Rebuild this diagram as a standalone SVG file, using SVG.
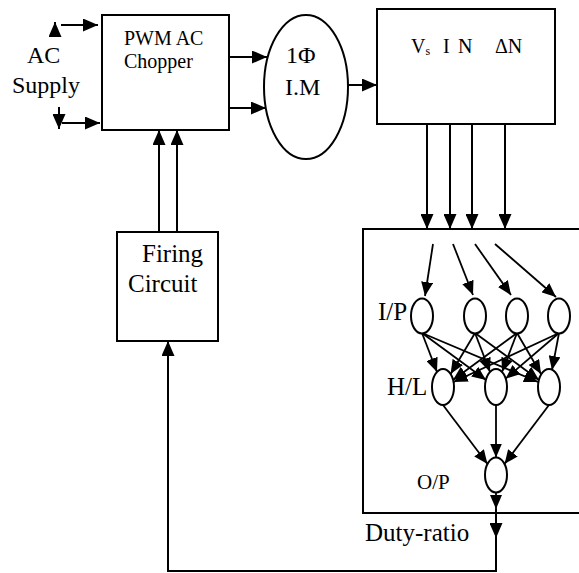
<svg xmlns="http://www.w3.org/2000/svg" width="579" height="573" viewBox="0 0 579 573">
<defs>
<marker id="ah" markerUnits="userSpaceOnUse" markerWidth="15" markerHeight="13" refX="15" refY="6.5" orient="auto"><path d="M0,0 L15,6.5 L0,13 z" fill="#000"/></marker>
<marker id="as" markerUnits="userSpaceOnUse" markerWidth="14" markerHeight="12" refX="14" refY="6" orient="auto"><path d="M0,0 L14,6 L0,12 z" fill="#000"/></marker>
<style>
.box{fill:#fff;stroke:#000;stroke-width:2}
.neu{fill:#fff;stroke:#000;stroke-width:2}
.ln{fill:none;stroke:#000;stroke-width:2}
.ar{fill:none;stroke:#000;stroke-width:2;marker-end:url(#ah)}
.an{fill:none;stroke:#000;stroke-width:1.8;marker-end:url(#as)}
text{font-family:"Liberation Serif","Times New Roman",serif;fill:#000}
</style>
</defs>
<rect width="579" height="573" fill="#fff"/>

<g id="nn-box"><rect class="box" x="363" y="229" width="230" height="284"/></g>

<g id="connectors">
<line class="ar" x1="55" y1="37" x2="55" y2="22"/>
<line class="ar" x1="61" y1="25" x2="98" y2="25"/>
<line class="ar" x1="59" y1="107" x2="59" y2="129"/>
<line class="ar" x1="62" y1="123" x2="100" y2="123"/>
<line class="ar" x1="229" y1="57" x2="267" y2="57"/>
<line class="ar" x1="229" y1="108" x2="266" y2="108"/>
<line class="ar" x1="348" y1="85" x2="377" y2="85"/>
<line class="ar" x1="427" y1="124" x2="427" y2="229"/>
<line class="ar" x1="450" y1="124" x2="450" y2="229"/>
<line class="ar" x1="472" y1="124" x2="472" y2="229"/>
<line class="ar" x1="505" y1="124" x2="505" y2="229"/>
<line class="ar" x1="159" y1="232" x2="159" y2="130"/>
<line class="ar" x1="177" y1="232" x2="177" y2="130"/>
<line class="an" x1="433" y1="244" x2="425" y2="296"/>
<line class="an" x1="453" y1="244" x2="473" y2="295"/>
<line class="an" x1="475" y1="244" x2="511" y2="295"/>
<line class="an" x1="495" y1="244" x2="556" y2="297"/>
<line class="an" x1="422" y1="333" x2="437" y2="372"/>
<line class="an" x1="422" y1="333" x2="486" y2="380"/>
<line class="an" x1="422" y1="333" x2="538" y2="382"/>
<line class="an" x1="475" y1="333" x2="450.6" y2="374"/>
<line class="an" x1="475" y1="333" x2="490" y2="372"/>
<line class="an" x1="475" y1="333" x2="539" y2="380"/>
<line class="an" x1="517" y1="333" x2="453" y2="380"/>
<line class="an" x1="517" y1="333" x2="502" y2="372"/>
<line class="an" x1="517" y1="333" x2="541" y2="374"/>
<line class="an" x1="559" y1="333" x2="453.6" y2="382"/>
<line class="an" x1="559" y1="333" x2="505.7" y2="378.6"/>
<line class="an" x1="559" y1="333" x2="552" y2="370"/>
<line class="an" x1="443" y1="405" x2="487.5" y2="464"/>
<line class="an" x1="496" y1="405" x2="496" y2="457.5"/>
<line class="an" x1="549" y1="405" x2="504.5" y2="464"/>
<line class="an" x1="496" y1="493" x2="496" y2="509"/>
<line class="ln" x1="496" y1="509" x2="496" y2="514"/>
<line class="ar" x1="496" y1="513" x2="496" y2="538"/>
<polyline class="ar" points="496,537 496,571 168,571 168,341"/>
</g>

<g id="chopper">
<rect class="box" x="102" y="15" width="127" height="115"/>
<text x="124" y="45" font-size="20">PWM AC</text>
<text x="124" y="68" font-size="20">Chopper</text>
</g>

<g id="ac-supply">
<text x="27" y="63" font-size="24">AC</text>
<text x="12" y="93" font-size="24">Supply</text>
</g>

<g id="motor">
<ellipse class="neu" cx="306" cy="87" rx="42" ry="72"/>
<text x="286" y="63" font-size="24">1Φ</text>
<text x="285" y="95" font-size="24">I.M</text>
</g>

<g id="measure">
<rect class="box" x="377" y="9" width="178" height="115"/>
<text x="411" y="53" font-size="20">V<tspan font-size="12" dy="2">s</tspan></text>
<text x="443" y="53" font-size="20">I</text>
<text x="458" y="53" font-size="20">N</text>
<text x="495" y="53" font-size="20">ΔN</text>
</g>

<g id="firing">
<rect class="box" x="117" y="232" width="101" height="109"/>
<text x="142" y="262" font-size="25">Firing</text>
<text x="128" y="292" font-size="25">Circuit</text>
</g>

<g id="nn-labels">
<text x="378" y="320" font-size="25">I/P</text>
<text x="387" y="395" font-size="25">H/L</text>
<text x="417" y="489" font-size="21">O/P</text>
<text x="365" y="541" font-size="25">Duty-ratio</text>
</g>

<g id="input-layer">
<ellipse class="neu" cx="422" cy="316" rx="11" ry="17.5"/>
<ellipse class="neu" cx="475" cy="316" rx="11" ry="17.5"/>
<ellipse class="neu" cx="517" cy="316" rx="11" ry="17.5"/>
<ellipse class="neu" cx="559" cy="316" rx="11" ry="17.5"/>
</g>
<g id="hidden-layer">
<ellipse class="neu" cx="443" cy="387" rx="11" ry="18"/>
<ellipse class="neu" cx="496" cy="387" rx="11" ry="18"/>
<ellipse class="neu" cx="549" cy="387" rx="11" ry="18"/>
</g>
<g id="output-layer">
<ellipse class="neu" cx="496" cy="475" rx="11" ry="17.5"/>
</g>
</svg>
